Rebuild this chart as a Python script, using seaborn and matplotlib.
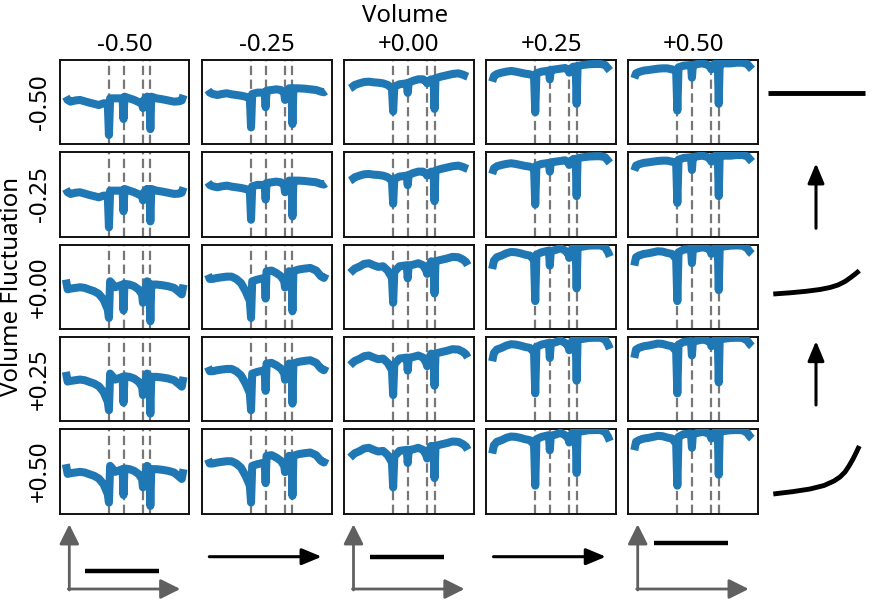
import numpy as np
import pandas as pd
import matplotlib
matplotlib.use("Agg")
import matplotlib.pyplot as plt
import seaborn as sns

# ---------------- data ----------------
volume_labels = ["-0.50", "-0.25", "+0.00", "+0.25", "+0.50"]
fluct_labels = ["-0.50", "-0.25", "+0.00", "+0.25", "+0.50"]

wl = [0, 1.5, 4, 8, 12, 16, 20, 24, 28, 32, 35.6, 36.6, 37.6, 42, 48.2, 49.0, 49.8,
      54, 58, 62, 64.8, 65.5, 66.2, 69, 71.0, 71.8, 72.6, 77, 82, 87, 92, 96, 98.5, 100]
dip_lines = [36.6, 49.0, 65.5, 71.8]

cm50_low = [0.565, 0.526, 0.506, 0.52, 0.526, 0.51, 0.494, 0.48, 0.466, 0.486, 0.486, 0.11,
            0.545, 0.545, 0.545, 0.30, 0.565, 0.545, 0.526, 0.50, 0.486, 0.43, 0.52, 0.565,
            0.56, 0.18, 0.565, 0.545, 0.534, 0.52, 0.506, 0.51, 0.52, 0.585]
cm50_high = [0.585, 0.47, 0.478, 0.486, 0.494, 0.486, 0.466, 0.447, 0.415, 0.348, 0.23, 0.13,
             0.565, 0.494, 0.526, 0.22, 0.534, 0.526, 0.506, 0.466, 0.407, 0.31, 0.37, 0.565,
             0.526, 0.09, 0.526, 0.526, 0.518, 0.506, 0.486, 0.44, 0.41, 0.526]
cm25_low = [0.644, 0.613, 0.597, 0.585, 0.597, 0.605, 0.593, 0.585, 0.577, 0.565, 0.545, 0.20,
            0.597, 0.613, 0.613, 0.44, 0.636, 0.644, 0.652, 0.644, 0.605, 0.526, 0.605, 0.664,
            0.664, 0.24, 0.664, 0.664, 0.66, 0.652, 0.644, 0.625, 0.617, 0.632]
cm25_high = [0.644, 0.593, 0.593, 0.605, 0.613, 0.62, 0.62, 0.593, 0.545, 0.447, 0.33, 0.13,
             0.565, 0.585, 0.605, 0.36, 0.684, 0.692, 0.664, 0.625, 0.565, 0.49, 0.565, 0.684,
             0.676, 0.21, 0.684, 0.704, 0.715, 0.723, 0.692, 0.625, 0.605, 0.652]
c00_low = [0.664, 0.676, 0.704, 0.723, 0.739, 0.743, 0.735, 0.731, 0.723, 0.704, 0.664, 0.39,
           0.684, 0.712, 0.723, 0.61, 0.731, 0.755, 0.771, 0.771, 0.743, 0.723, 0.743, 0.771,
           0.763, 0.42, 0.783, 0.802, 0.818, 0.834, 0.842, 0.826, 0.81, 0.802]
c00_high = [0.664, 0.684, 0.715, 0.739, 0.771, 0.779, 0.755, 0.735, 0.743, 0.692, 0.605, 0.31,
            0.676, 0.743, 0.755, 0.60, 0.751, 0.763, 0.779, 0.755, 0.692, 0.652, 0.723, 0.802,
            0.794, 0.42, 0.802, 0.818, 0.834, 0.854, 0.85, 0.822, 0.794, 0.755]
cp25_low = [0.743, 0.81, 0.834, 0.85, 0.862, 0.87, 0.862, 0.85, 0.838, 0.83, 0.81, 0.38,
            0.842, 0.862, 0.874, 0.77, 0.881, 0.889, 0.897, 0.905, 0.881, 0.85, 0.889, 0.921,
            0.921, 0.48, 0.929, 0.941, 0.949, 0.953, 0.953, 0.941, 0.90, 0.874]
cp25_high = [0.711, 0.81, 0.85, 0.87, 0.897, 0.913, 0.909, 0.897, 0.881, 0.87, 0.818, 0.33,
             0.881, 0.909, 0.929, 0.75, 0.921, 0.937, 0.957, 0.929, 0.889, 0.842, 0.909, 0.968,
             0.968, 0.48, 0.976, 0.976, 0.988, 0.99, 0.99, 0.968, 0.91, 0.858]
cp50_low = [0.783, 0.842, 0.858, 0.874, 0.881, 0.889, 0.897, 0.901, 0.901, 0.889, 0.874, 0.40,
            0.913, 0.933, 0.941, 0.79, 0.941, 0.953, 0.96, 0.945, 0.913, 0.889, 0.929, 0.96,
            0.96, 0.48, 0.96, 0.96, 0.96, 0.968, 0.968, 0.953, 0.913, 0.889]
cp50_high = [0.751, 0.85, 0.87, 0.889, 0.897, 0.909, 0.921, 0.917, 0.901, 0.889, 0.83, 0.33,
             0.909, 0.941, 0.949, 0.78, 0.941, 0.957, 0.968, 0.957, 0.929, 0.889, 0.937, 0.968,
             0.968, 0.46, 0.968, 0.98, 0.988, 0.99, 0.988, 0.957, 0.909, 0.889]

low_profiles = [cm50_low, cm25_low, c00_low, cp25_low, cp50_low]
high_profiles = [cm50_high, cm25_high, c00_high, cp25_high, cp50_high]
row_uses_high = [False, False, True, True, True]

# icon levels for bottom row (pixel y of black bars)
bottom_levels = [570.7, 556.7, 542.7]

# ---------------- style ----------------
sns.set_theme(style="white")
plt.rcParams["font.family"] = ["Noto Sans", "DejaVu Sans"]
plt.rcParams["text.color"] = "black"

W, H = 877, 601
fig = plt.figure(figsize=(W / 100, H / 100), dpi=100)


def rect(x0, y0, w, h):
    return [x0 / W, 1 - (y0 + h) / H, w / W, h / H]


px_left, px_step, pw = 60.0, 142.1, 129.4
py_top, py_step, ph = 60.0, 92.3, 84.3
blue = "#1f77b4"

for i in range(5):
    for j in range(5):
        ax = fig.add_axes(rect(px_left + j * px_step, py_top + i * py_step, pw, ph))
        prof = high_profiles[j] if row_uses_high[i] else low_profiles[j]
        df = pd.DataFrame({"wl": wl, "flux": prof})
        for d in dip_lines:
            ax.axvline(d, color="#777777", lw=1.6, ls=(0, (4.2, 2.0)), zorder=1)
        sns.lineplot(data=df, x="wl", y="flux", ax=ax, color=blue, lw=5.8,
                     solid_joinstyle="round", solid_capstyle="butt", zorder=3)
        ax.set_xlim(-5, 105)
        ax.set_ylim(0, 1)
        ax.set_xticks([])
        ax.set_yticks([])
        ax.set_xlabel("")
        ax.set_ylabel("")
        for s in ax.spines.values():
            s.set_color("#111111")
            s.set_linewidth(1.4)
            s.set_visible(True)

# labels
fs = 17.3
fig.text(405 / W, 1 - 16 / H, "Volume", ha="center", va="center", fontsize=fs)
for j, lab in enumerate(volume_labels):
    cx = px_left + j * px_step + pw / 2
    fig.text(cx / W, 1 - 45 / H, lab, ha="center", va="center", fontsize=fs)
for i, lab in enumerate(fluct_labels):
    cy = py_top + i * py_step + ph / 2
    fig.text(40 / W, 1 - cy / H, lab, ha="center", va="center", rotation=90, fontsize=fs)
fig.text(12 / W, 1 - 286.7 / H, "Volume Fluctuation", ha="center", va="center",
         rotation=90, fontsize=fs)

# ---------------- icons ----------------
ov = fig.add_axes([0, 0, 1, 1], zorder=5)
ov.set_xlim(0, W)
ov.set_ylim(H, 0)
ov.axis("off")
ov.patch.set_alpha(0)

gray = "#606060"
gstyle = dict(arrowstyle="-|>,head_length=0.6,head_width=0.3", color=gray, lw=2.0,
              mutation_scale=20, shrinkA=0, shrinkB=0)
bstyle = dict(arrowstyle="-|>,head_length=0.6,head_width=0.25", color="black", lw=2.2,
              mutation_scale=20, shrinkA=0, shrinkB=0)

for k, lev in enumerate(bottom_levels):
    x0 = 69.3 + 284.2 * k
    ov.annotate("", xy=(x0, 524.3), xytext=(x0, 590), arrowprops=gstyle)
    ov.annotate("", xy=(x0 + 111, 589), xytext=(x0 - 1, 589), arrowprops=gstyle)
    ov.plot([x0 + 16, x0 + 90], [lev, lev], color="black", lw=3.2, solid_capstyle="butt")
for k in range(2):
    x0 = 209.3 + 284.2 * k
    ov.annotate("", xy=(x0 + 112.4, 556.7), xytext=(x0, 556.7), arrowprops=bstyle)

# right column
ov.plot([767.7, 865], [93.3, 93.3], color="black", lw=3.5, solid_capstyle="butt")
ov.annotate("", xy=(816, 163.3), xytext=(816, 228.3), arrowprops=bstyle)
ov.annotate("", xy=(816, 341), xytext=(816, 405), arrowprops=bstyle)
ov.plot([773.3, 790, 806, 820, 830, 838, 845, 850, 855, 859.3],
        [294, 292.8, 291.3, 289.5, 287.5, 285, 281.5, 278, 274.2, 270.7],
        color="black", lw=3.5, solid_capstyle="butt", solid_joinstyle="round")
ov.plot([773.3, 793, 810, 824, 834, 840, 845, 849, 853, 856.5, 859.3],
        [494, 491.6, 489, 485.5, 481, 477, 472, 466, 459, 452, 446],
        color="black", lw=3.5, solid_capstyle="butt", solid_joinstyle="round")

fig.savefig("out.png", dpi=100)
